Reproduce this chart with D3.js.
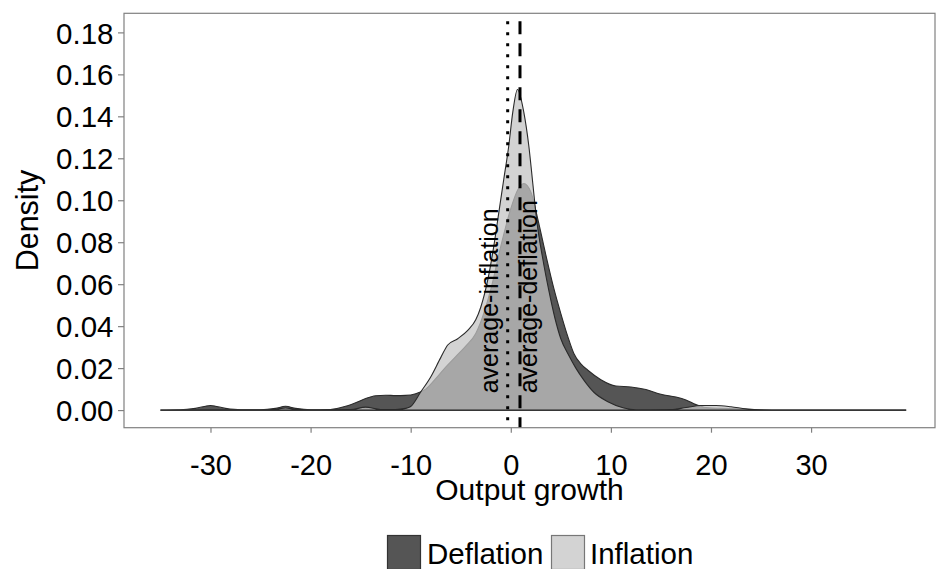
<!DOCTYPE html>
<html><head><meta charset="utf-8">
<script src="https://cdn.jsdelivr.net/npm/d3@7"></script>
<style>body{margin:0;background:#fff}svg{display:block;font-family:"Liberation Sans",Arial,Helvetica,sans-serif}</style>
</head><body><svg id="chart" width="939" height="569"></svg>
<script>
// ---- data ----
const seriesNames = ["Deflation", "Inflation"];
const deflationX = [-35,-33,-31.5,-30,-28.5,-27,-25,-23.5,-22.5,-21.5,-20,-18,-16.5,-15.5,-14.5,-13.5,-12.5,-11.5,-10.5,-9.5,-8.5,-7.5,-6.5,-5.5,-4.5,-3.5,-3,-2,-1,0,0.7,1.3,2,2.7,3.5,4.3,5,5.7,6.3,7,7.7,9,10.5,12,13.5,15,16.5,17.5,18.5,19.5,21,22.5,24,26,30,35,39.5];
const deflationY = [0,0.0001,0.0008,0.0022,0.0008,0.0001,0.0001,0.0008,0.0018,0.0008,0.0001,0.0003,0.0018,0.0035,0.0055,0.0068,0.0071,0.0069,0.0070,0.0078,0.0100,0.0150,0.0205,0.0255,0.0305,0.0365,0.0420,0.0575,0.0780,0.0960,0.1050,0.1080,0.1040,0.0910,0.0740,0.0580,0.0460,0.0350,0.0270,0.0220,0.0190,0.0145,0.0115,0.0110,0.0098,0.0075,0.0062,0.0048,0.0026,0.0012,0.0008,0.0006,0.0002,0,0,0,0];
const inflationX = [-35,-30,-25,-23.5,-22.5,-21.5,-19,-16,-14.5,-13,-11.5,-10.5,-10,-9,-8,-7,-6.3,-5.3,-4.3,-3.5,-3,-2.3,-1.7,-1.2,-0.7,-0.2,0.2,0.67,1.3,1.8,2.2,2.6,3.2,3.8,4.4,5,5.8,6.5,7.3,8.3,9.7,11.3,12.5,14,16,17.5,19,20.5,22,23.5,25,27,35,39.5];
const inflationY = [0,0.0001,0.0001,0.0004,0.0010,0.0004,0.0001,0.0002,0.0014,0.0003,0.0003,0.0008,0.0017,0.0086,0.0158,0.0250,0.0310,0.0340,0.0380,0.0430,0.0490,0.0620,0.0780,0.0940,0.1100,0.1260,0.1420,0.1528,0.1420,0.1260,0.1080,0.0900,0.0720,0.0570,0.0440,0.0340,0.0260,0.0200,0.0143,0.0085,0.0040,0.0010,0.0001,0,0.0002,0.0012,0.0022,0.0022,0.0016,0.0006,0.0001,0,0,0];
const xTicks = [-30, -20, -10, 0, 10, 20, 30];
const xTickLabels = ["-30", "-20", "-10", "0", "10", "20", "30"];
const yTicks = [0, 0.02, 0.04, 0.06, 0.08, 0.10, 0.12, 0.14, 0.16, 0.18];
const yTickLabels = ["0.00", "0.02", "0.04", "0.06", "0.08", "0.10", "0.12", "0.14", "0.16", "0.18"];
const meanValues = [-0.31, 0.92];           // inflation (dotted), deflation (dashed)
const annoLabels = ["average-inflation", "average-deflation"];
const annoX = [-1.28, 2.62];
const annoY = [0.008, 0.008];

// ---- layout ----
const svg = d3.select("#chart");
const P = {left: 124, right: 935, top: 13.3, bottom: 427.7};
const x = d3.scaleLinear().domain([-38.64, 42.38]).range([P.left, P.right]);
const y = d3.scaleLinear().domain([-0.0084, 0.1891]).range([P.bottom, P.top]);

const fills = {Deflation: "#1a1a1a", Inflation: "#c4c4c4"};
const alpha = 0.74;

const series = [
  {name: "Deflation", pts: d3.zip(deflationX, deflationY)},
  {name: "Inflation", pts: d3.zip(inflationX, inflationY)}
];

const area = d3.area()
  .x(d => x(d[0])).y0(y(0)).y1(d => y(d[1]))
  .curve(d3.curveMonotoneX);

svg.append("rect").attr("width", 939).attr("height", 569).attr("fill", "#fff");

const plot = svg.append("g");
series.forEach(s => {
  plot.append("path").datum(s.pts).attr("d", area)
    .attr("fill", fills[s.name]).attr("fill-opacity", alpha)
    .attr("stroke", "#2a2a2a").attr("stroke-width", 1.1);
});

// mean lines
const dashes = ["3,8", "13,9"];
meanValues.forEach((m, i) => {
  svg.append("line")
    .attr("x1", x(m)).attr("x2", x(m))
    .attr("y1", P.top + 8).attr("y2", P.bottom)
    .attr("stroke", "#000").attr("stroke-width", 3)
    .attr("stroke-dasharray", dashes[i]);
});

// annotations
annoLabels.forEach((t, i) => {
  const px = x(annoX[i]), py = y(annoY[i]);
  svg.append("text").text(t)
    .attr("transform", `translate(${px},${py}) rotate(-90)`)
    .attr("text-anchor", "start")
    .attr("font-size", 25).attr("fill", "#000");
});

// panel border
svg.append("rect")
  .attr("x", P.left).attr("y", P.top)
  .attr("width", P.right - P.left).attr("height", P.bottom - P.top)
  .attr("fill", "none").attr("stroke", "#808080").attr("stroke-width", 1.2);

// axes
const xAxis = svg.append("g").attr("transform", `translate(0,${P.bottom})`)
  .call(d3.axisBottom(x).tickValues(xTicks).tickSize(5)
    .tickFormat((d, i) => xTickLabels[i]));
xAxis.attr("font-family", null);
xAxis.select(".domain").remove();
xAxis.selectAll(".tick line").attr("stroke", "#808080").attr("stroke-width", 1.2);
xAxis.selectAll(".tick text").attr("dy", null).attr("y", 475 - P.bottom)
  .attr("font-size", 29).attr("fill", "#000");

const yAxis = svg.append("g").attr("transform", `translate(${P.left},0)`)
  .call(d3.axisLeft(y).tickValues(yTicks).tickSize(6)
    .tickFormat((d, i) => yTickLabels[i]));
yAxis.attr("font-family", null);
yAxis.select(".domain").remove();
yAxis.selectAll(".tick line").attr("stroke", "#808080").attr("stroke-width", 1.2);
yAxis.selectAll(".tick text").attr("x", -10.5).attr("dy", "0.36em")
  .attr("font-size", 29.5).attr("fill", "#000");

// axis titles
svg.append("text").text("Output growth")
  .attr("x", (P.left + P.right) / 2).attr("y", 500)
  .attr("text-anchor", "middle").attr("font-size", 30).attr("fill", "#000");
svg.append("text").text("Density")
  .attr("transform", `translate(38,${(P.top + P.bottom) / 2}) rotate(-90)`)
  .attr("text-anchor", "middle").attr("font-size", 30.5).attr("fill", "#000");

// legend
const legX = [387.5, 551.5];
const legTextX = [427, 590];
seriesNames.forEach((n, i) => {
  svg.append("rect").attr("x", legX[i]).attr("y", 535.5).attr("width", 33).attr("height", 34)
    .attr("fill", fills[n]).attr("fill-opacity", alpha)
    .attr("stroke", i === 0 ? "#333" : "#777").attr("stroke-width", 1.2);
  svg.append("text").text(n).attr("x", legTextX[i]).attr("y", 564)
    .attr("font-size", 29.5).attr("fill", "#000");
});
</script>
</body></html>
